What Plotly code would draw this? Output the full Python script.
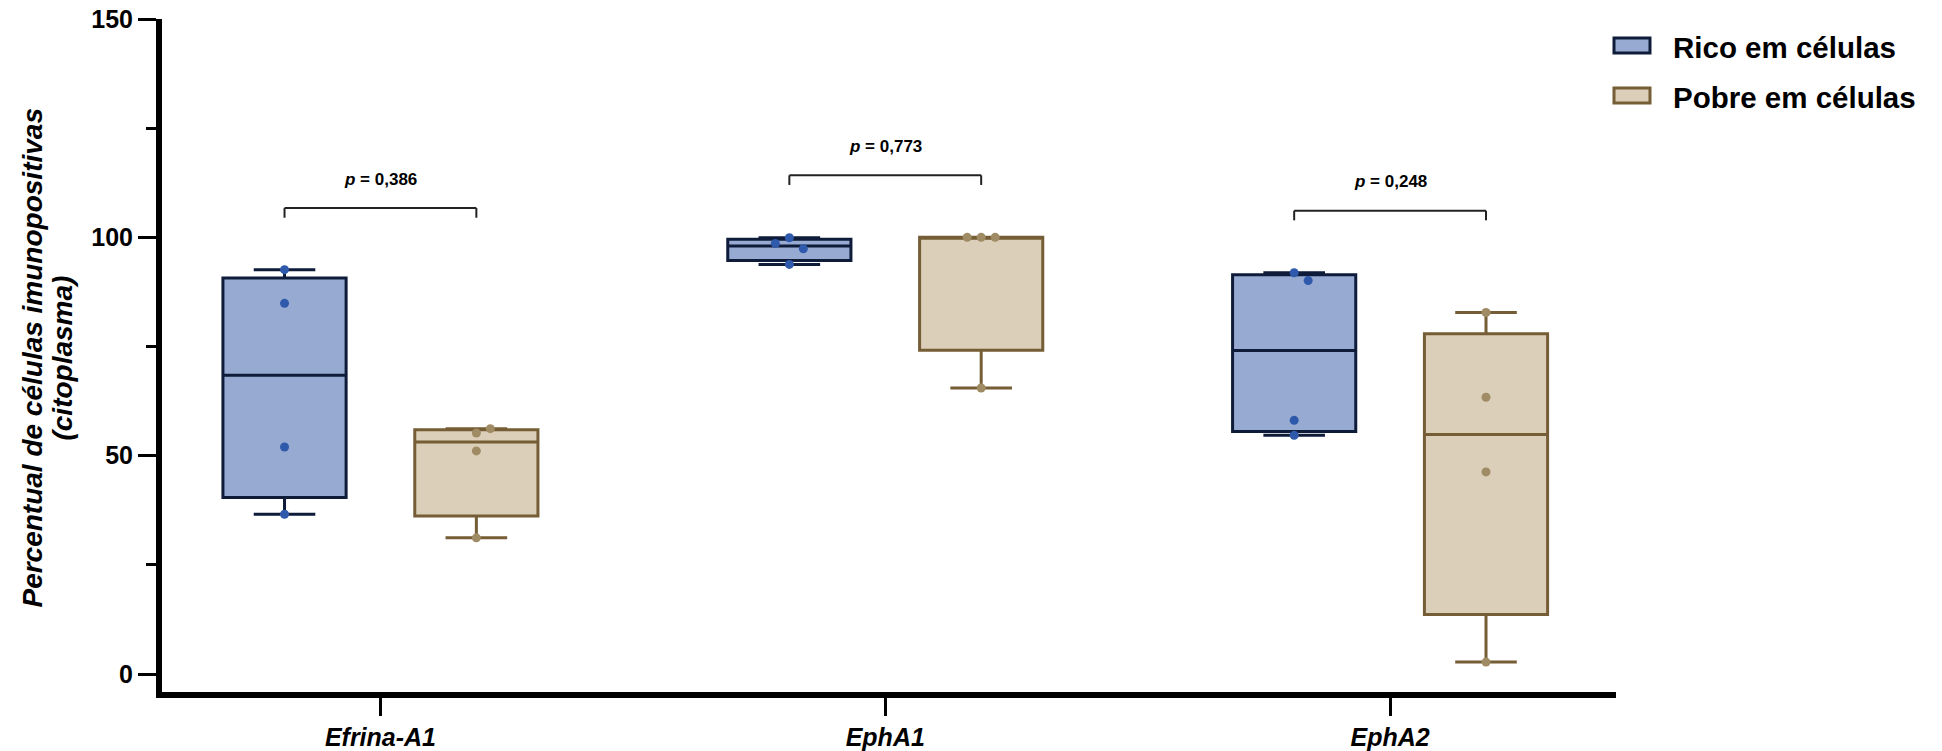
import numpy as np
import plotly.graph_objects as go

# ---------------- data ----------------
categories = ["Efrina-A1", "EphA1", "EphA2"]
group_names = ["Rico em células", "Pobre em células"]

rico_efrina_a1 = [92.6, 84.9, 52.0, 36.6]
rico_epha1 = [99.9, 93.8, 97.4, 98.6]
rico_epha2 = [91.9, 90.1, 58.1, 54.7]

pobre_efrina_a1 = [55.2, 51.1, 31.2, 56.2]
pobre_epha1 = [100.0, 100.0, 100.0, 65.5]
pobre_epha2 = [82.8, 63.4, 46.3, 2.75]

p_values = ["0,386", "0,773", "0,248"]
bracket_heights = [106.7, 114.2, 106.1]

y_tick_values = [0, 50, 100, 150]
y_title_lines = ["Percentual de células imunopositivas", "(citoplasma)"]

rico_groups = [rico_efrina_a1, rico_epha1, rico_epha2]
pobre_groups = [pobre_efrina_a1, pobre_epha1, pobre_epha2]

# ---------------- style ----------------
W, H = 1942, 751
# plot area edges in page pixels (page body margin removed below)
P_LEFT, P_RIGHT, P_TOP, P_BOTTOM = 161.5, 1616, 19, 692
M_L = P_LEFT
M_T = P_TOP
M_R = W - P_RIGHT
M_B = H - P_BOTTOM
X_RANGE = [-0.4327, 2.4475]
Y_RANGE = [-4.1, 150]
PLOT_W = P_RIGHT - P_LEFT
PLOT_H = P_BOTTOM - P_TOP
PX_X = PLOT_W / (X_RANGE[1] - X_RANGE[0])
PX_Y = PLOT_H / (Y_RANGE[1] - Y_RANGE[0])

FONT = "Liberation Sans, Arial, sans-serif"
group_offset = 0.19
box_width = 0.244
styles = [
    dict(fill="#97AAD2", line="#0E1C3A", point="#2F59AA"),
    dict(fill="#DBCFB9", line="#755D35", point="#A08C64"),
]


def quartile_stats(vals):
    a = np.asarray(vals, dtype=float)
    q1, med, q3 = np.percentile(a, [25, 50, 75], method="weibull")
    return q1, med, q3, a.min(), a.max()


def swarm(values, center, min_dist=12.0, step_px=14.0):
    placed, xs = [], []
    for v in values:
        dx = 0.0
        for k in [0, 1, -1, 2, -2, 3, -3]:
            dx = k * step_px
            ok = all((dx - pdx) ** 2 + ((v - pv) * PX_Y) ** 2 >= min_dist ** 2
                     for pdx, pv in placed)
            if ok:
                break
        placed.append((dx, v))
        xs.append(center + dx / PX_X)
    return xs


fig = go.Figure()

for gi, groups in enumerate([rico_groups, pobre_groups]):
    st = styles[gi]
    off = -group_offset if gi == 0 else group_offset
    pos = [i + off for i in range(len(categories))]
    stats = [quartile_stats(g) for g in groups]
    fig.add_trace(go.Box(
        x=pos,
        q1=[s[0] for s in stats],
        median=[s[1] for s in stats],
        q3=[s[2] for s in stats],
        lowerfence=[s[3] for s in stats],
        upperfence=[s[4] for s in stats],
        width=box_width,
        whiskerwidth=0.5,
        fillcolor=st["fill"],
        line=dict(color=st["line"], width=3),
        boxpoints=False,
        name=group_names[gi],
        showlegend=False,
        hoverinfo="skip",
    ))
    px_all, py_all = [], []
    for ci, g in enumerate(groups):
        px_all += swarm(g, pos[ci])
        py_all += list(g)
    fig.add_trace(go.Scatter(
        x=px_all, y=py_all, mode="markers",
        marker=dict(color=st["point"], size=9, line=dict(width=0)),
        showlegend=False, hoverinfo="skip",
    ))

# significance brackets
shapes = []
annotations = []
drop = 2.2
for ci, (hgt, pv) in enumerate(zip(bracket_heights, p_values)):
    x0, x1 = ci - group_offset, ci + group_offset
    for (xa, ya, xb, yb) in [(x0, hgt - drop, x0, hgt), (x0, hgt, x1, hgt), (x1, hgt, x1, hgt - drop)]:
        shapes.append(dict(type="line", xref="x", yref="y", x0=xa, y0=ya, x1=xb, y1=yb,
                           line=dict(color="#222222", width=2)))
    annotations.append(dict(x=ci, y=hgt + 6.6, xref="x", yref="y",
                            text="<i>p</i> = " + pv, showarrow=False,
                            xanchor="center", yanchor="middle",
                            font=dict(family=FONT, size=17, color="black", weight="bold")))


def px2paper_x(px):
    return (px - P_LEFT) / PLOT_W


def px2paper_y(py):
    return (P_BOTTOM - py) / PLOT_H


# manual legend
legend_rows = [(38, 53, 47), (88, 103, 96)]
for gi, (ytop, ybot, ytext) in enumerate(legend_rows):
    st = styles[gi]
    shapes.append(dict(type="rect", xref="paper", yref="paper",
                       x0=px2paper_x(1614), x1=px2paper_x(1650),
                       y0=px2paper_y(ybot), y1=px2paper_y(ytop),
                       fillcolor=st["fill"], line=dict(color=st["line"], width=3)))
    annotations.append(dict(x=px2paper_x(1671), y=px2paper_y(ytext + 1), xref="paper", yref="paper",
                            text=group_names[gi], showarrow=False,
                            xanchor="left", yanchor="middle",
                            font=dict(family=FONT, size=29.5, color="black", weight="bold")))

# y axis title (two lines)
for line_text, xc in zip(y_title_lines, [31, 61]):
    annotations.append(dict(
        x=px2paper_x(xc), y=px2paper_y(358), xref="paper", yref="paper",
        text=line_text, textangle=-90, showarrow=False,
        xanchor="center", yanchor="middle",
        font=dict(family=FONT, size=28, color="black", weight="bold", style="italic"),
    ))

fig.update_layout(
    width=W, height=H,
    margin=dict(l=M_L, r=M_R, t=M_T, b=M_B, pad=0, autoexpand=False),
    paper_bgcolor="white", plot_bgcolor="white",
    shapes=shapes, annotations=annotations,
    showlegend=False,
    xaxis=dict(
        range=X_RANGE, tickmode="array", tickvals=list(range(len(categories))),
        ticktext=categories, showgrid=False, zeroline=False, automargin=False,
        showline=True, linewidth=6, linecolor="black",
        ticks="outside", ticklen=18, tickwidth=3, tickcolor="black",
        ticklabeloverflow="allow",
        tickfont=dict(family=FONT, size=25, color="black", weight="bold", style="italic"),
    ),
    yaxis=dict(
        range=Y_RANGE, tickmode="array", tickvals=y_tick_values,
        showgrid=False, zeroline=False, automargin=False,
        showline=True, linewidth=6, linecolor="black",
        ticks="outside", ticklen=18, tickwidth=3, tickcolor="black",
        ticklabeloverflow="allow",
        tickfont=dict(family=FONT, size=25, color="black", weight="bold"),
        minor=dict(tickmode="linear", tick0=25, dtick=50, ticks="outside",
                   ticklen=10, tickwidth=3, tickcolor="black", showgrid=False),
    ),
)

fig.write_html("out.html", config={"displayModeBar": False},
               post_script="document.body.style.margin='0px';")
